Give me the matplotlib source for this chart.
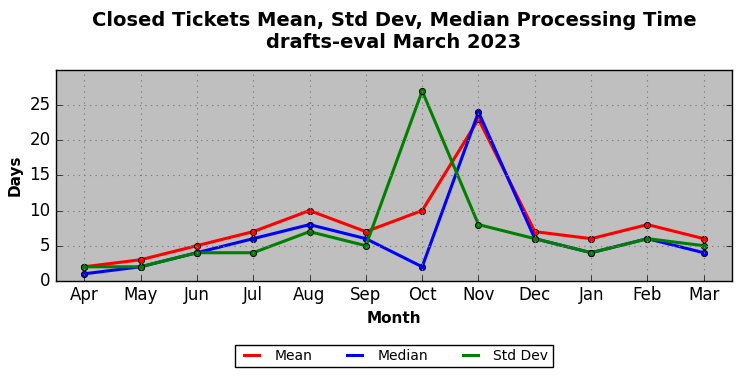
import matplotlib
matplotlib.use('Agg')
import matplotlib.pyplot as plt
from matplotlib.lines import Line2D

plt.style.use('classic')

months = ['Apr', 'May', 'Jun', 'Jul', 'Aug', 'Sep', 'Oct', 'Nov', 'Dec', 'Jan', 'Feb', 'Mar']
mean_days = [2, 3, 5, 7, 10, 7, 10, 23, 7, 6, 8, 6]
median_days = [1, 2, 4, 6, 8, 6, 2, 24, 6, 4, 6, 4]
std_days = [2, 2, 4, 4, 7, 5, 27, 8, 6, 4, 6, 5]

fig = plt.figure(figsize=(7.42, 3.78), dpi=100)
ax = fig.add_axes([0.0755, 0.257, 0.911, 0.558])
ax.set_facecolor('#bfbfbf')

x = list(range(len(months)))
series = [('Mean', mean_days, 'red'), ('Median', median_days, 'blue'), ('Std Dev', std_days, 'green')]
handles = []
for name, vals, col in series:
    ax.plot(x, vals, color=col, lw=2.2, marker='o', ms=4.5, mec='black', mew=0.6)
    handles.append(Line2D([], [], color=col, lw=2.2, label=name))

ax.set_xlim(-0.5, 11.5)
ax.set_ylim(0, 30)
ax.set_yticks(range(0, 30, 5))
ax.set_xticks(x)
ax.set_xticklabels(months)
ax.tick_params(labelsize=12, top=False, right=True)
ax.grid(True, color='gray', linestyle=':', linewidth=0.8)

ax.set_xlabel('Month', fontsize=11, fontweight='bold')
ax.set_ylabel('Days', fontsize=11, fontweight='bold')
# title is centred over the axes, not the figure
fig.suptitle('Closed Tickets Mean, Std Dev, Median Processing Time\ndrafts-eval March 2023',
             fontsize=14, fontweight='bold', x=0.531, y=0.972)

ax.legend(handles=handles, loc='upper center', bbox_to_anchor=(0.5, -0.27), ncol=3,
          fontsize=10, frameon=True, fancybox=False, handlelength=1.7, columnspacing=2.2,
          borderpad=0.3)

fig.savefig('out.png', dpi=100, facecolor='white')
